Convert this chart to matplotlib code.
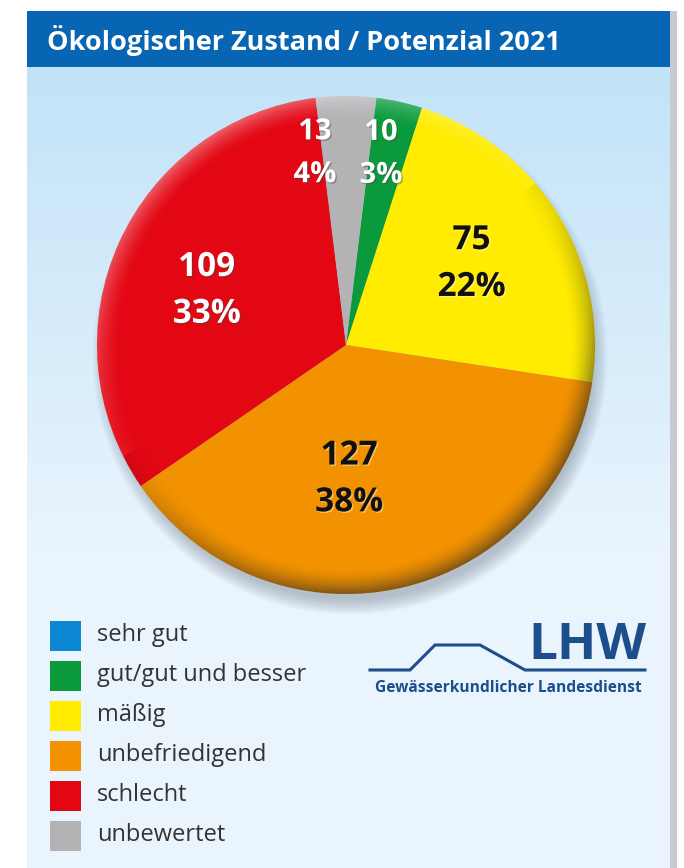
import numpy as np
import matplotlib.pyplot as plt
from matplotlib.patches import Rectangle, Circle
import matplotlib.patheffects as pe

plt.rcParams['font.family'] = ['Open Sans', 'DejaVu Sans']

# data
categories = ['sehr gut', 'gut/gut und besser', 'mäßig', 'unbefriedigend', 'schlecht', 'unbewertet']
counts = [0, 10, 75, 127, 109, 13]
percents = [0, 3, 22, 38, 33, 4]
colors = ['#0b86d1', '#0a9a3c', '#ffec00', '#f39200', '#e30613', '#b3b3b6']
label_colors = ['white', 'white', '#111111', '#111111', 'white', 'white']
title = 'Ökologischer Zustand / Potenzial 2021'

W, H = 684, 868
fig = plt.figure(figsize=(W / 100, H / 100), dpi=100)
fig.patch.set_facecolor('white')

# background axes in pixel coordinates
bg = fig.add_axes([0, 0, 1, 1])
bg.set_xlim(0, W)
bg.set_ylim(H, 0)
bg.axis('off')

# panel gradient
grad = np.linspace(0, 1, 256)[:, None]
top_c = np.array([0.76, 0.89, 0.97])
bot_c = np.array([0.92, 0.96, 0.995])
img = top_c + (bot_c - top_c) * np.clip(grad * 1.6, 0, 1)[:, :, None]
img = np.repeat(img, 2, axis=1)
bg.imshow(img, extent=[27, 670, H, 67], aspect='auto', zorder=0)
bg.add_patch(Rectangle((670, 11), 7, H - 11, color='#c9c9cf', zorder=1, lw=0))
bg.add_patch(Rectangle((27, 11), 643, 56, color='#0865b3', zorder=2, lw=0))
bg.text(47, 40, title, color='white', fontsize=19.5, fontweight='bold',
        va='center', ha='left', zorder=3)

# legend
for i, (cat, col) in enumerate(zip(categories, colors)):
    y = 621 + i * 40
    bg.add_patch(Rectangle((50, y), 31, 30, color=col, lw=0, zorder=3))
    bg.text(97, y + 14, cat, fontsize=17, color='#333333', va='center',
            ha='left', zorder=3)

# LHW logo
navy = '#1c4d8c'
bg.plot([370, 410, 435, 480, 525, 645], [670, 670, 645, 645, 670, 670],
        color=navy, lw=2.2, zorder=3, solid_joinstyle='miter')
bg.text(646, 646, 'LHW', fontsize=37, fontweight='bold', color=navy,
        ha='right', va='center', zorder=3)
bg.text(508, 688, 'Gewässerkundlicher Landesdienst', fontsize=11.2,
        fontweight='bold', color=navy, ha='center', va='center', zorder=3)

# pie
cx, cy, r = 346, 345, 249

# drop shadow of pie
for k in range(10):
    bg.add_patch(Circle((cx + 4, cy + 12), r - 6 + k * 1.6, color='#6f7c88',
                        alpha=0.05, lw=0, zorder=1))

pax = fig.add_axes([(cx - r) / W, (H - cy - r) / H, 2 * r / W, 2 * r / H])
wedges, _ = pax.pie(counts, colors=colors, startangle=83, counterclock=False,
                    radius=1, wedgeprops=dict(lw=0))
pax.set_xlim(-1, 1)
pax.set_ylim(-1, 1)
pax.axis('off')

# rim shading
n = 500
xx, yy = np.meshgrid(np.linspace(-1, 1, n), np.linspace(1, -1, n))
rr = np.sqrt(xx ** 2 + yy ** 2) + 1e-9
edge = np.clip((rr - 0.9) / 0.1, 0, 1) ** 1.6
d = (xx * 0.55 - yy * 0.83) / rr
shade = np.zeros((n, n, 4))
dark = edge * np.clip(d + 0.2, 0, 1) * 0.55
light = edge * np.clip(-d, 0, 1) * 0.35
alpha = dark + light
shade[..., :3] = np.where((light > dark)[..., None], 1.0, 0.15)
shade[..., 3] = alpha
im = pax.imshow(shade, extent=[-1, 1, -1, 1], zorder=5)
im.set_clip_path(Circle((0, 0), 1, transform=pax.transData))

# value labels (two lines, placed around each wedge's middle angle)
label_r = [0.7, 0.78, 0.60, 0.54, 0.60, 0.78]
label_da = [0, -2, -1, 11.6, -3, -9.2]
for i, w in enumerate(wedges):
    if counts[i] == 0:
        continue
    mid = (w.theta1 + w.theta2) / 2
    ang = np.deg2rad(mid - label_da[i])
    x = label_r[i] * np.cos(ang)
    y = label_r[i] * np.sin(ang)
    small = counts[i] < 20
    fs = 21 if small else 24
    dy = 0.086 if small else 0.094
    shadow = '#444444' if label_colors[i] == 'white' else '#ffffff'
    effects = [pe.withSimplePatchShadow(offset=(1, -1), shadow_rgbFace=shadow, alpha=0.4)]
    for line, yy_ in ((f'{counts[i]}', y + dy), (f'{percents[i]}%', y - dy)):
        pax.text(x, yy_, line, ha='center', va='center', fontsize=fs,
                 fontweight='bold', color=label_colors[i], zorder=6,
                 path_effects=effects)

fig.savefig('out.png', dpi=100)
